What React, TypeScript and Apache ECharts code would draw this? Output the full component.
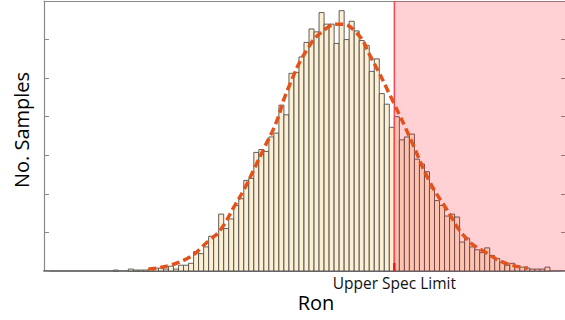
import React, { useEffect, useRef } from "react";
import * as echarts from "echarts";

// Histogram counts per bin (bin i spans [i, i+1])
const BIN_COUNTS = [
  1, 0, 0, 2, 1, 1, 1, 2, 3, 3,
  2, 5, 2, 6, 6, 8, 20, 18, 25, 36,
  37, 59, 44, 54, 68, 75, 94, 96, 123, 126,
  124, 139, 143, 172, 162, 205, 206, 222, 237, 251,
  248, 268, 256, 256, 236, 270, 240, 259, 249, 239,
  234, 207, 220, 184, 173, 149, 160, 136, 139, 142,
  116, 111, 103, 86, 73, 68, 57, 59, 56, 30,
  34, 25, 22, 19, 24, 16, 13, 9, 6, 8,
  5, 4, 3, 2, 2, 2, 4,
];

// Fitted distribution curve
const CURVE_X = [7.0, 14.0, 19.4, 21.4, 24.0, 26.0, 28.0, 30.0, 32.3, 34.9, 38.9, 42.3, 44.9, 48.3, 51.3, 55.9, 59.3, 62.9, 66.3, 70.3, 74.3, 78.2, 82.6];
const CURVE_Y = [2, 11, 33, 43, 66, 84, 105, 127, 152, 190, 232, 251, 256, 248, 222, 174, 136, 94, 65, 34, 19, 8, 3];

const SPEC_LIMIT = 56;
const SPEC_LABEL = "Upper Spec Limit";
const X_MIN = -13.8;
const X_MAX = 90;
const Y_MAX = 280;
const Y_INTERVAL = 40;

const FONT = "'Open Sans', 'Noto Sans', sans-serif";

export default function App() {
  const ref = useRef<HTMLDivElement>(null);
  useEffect(() => {
    if (!ref.current) return;
    const chart = echarts.init(ref.current, null, { renderer: "svg" });
    const option: any = {
      animation: false,
      grid: {
        left: 44,
        right: 0,
        top: 1,
        bottom: 49,
        containLabel: false,
        outerBoundsMode: "none",
      },
      xAxis: [
        {
          type: "value",
          min: X_MIN,
          max: X_MAX,
          position: "bottom",
          axisLine: { show: true, onZero: false, lineStyle: { color: "#4a4a4a", width: 1.5 } },
          axisTick: { show: false },
          splitLine: { show: false },
          axisLabel: {
            show: true,
            customValues: [SPEC_LIMIT],
            formatter: () => SPEC_LABEL,
            color: "#111",
            fontFamily: FONT,
            fontSize: 15.5,
            margin: 4,
          },
        },
        {
          type: "value",
          min: X_MIN,
          max: X_MAX,
          position: "top",
          axisLine: { show: true, onZero: false, lineStyle: { color: "#8a8a8a", width: 1 } },
          axisTick: { show: false },
          splitLine: { show: false },
          axisLabel: { show: false },
        },
      ],
      yAxis: [
        {
          type: "value",
          min: 0,
          max: Y_MAX,
          interval: Y_INTERVAL,
          position: "left",
          axisLine: { show: true, onZero: false, lineStyle: { color: "#8a8a8a", width: 1.2 } },
          axisTick: { show: true, inside: true, length: 5, lineStyle: { color: "#8a8a8a" } },
          axisLabel: { show: false },
          splitLine: { show: false },
        },
        {
          type: "value",
          min: 0,
          max: Y_MAX,
          interval: Y_INTERVAL,
          position: "right",
          axisLine: { show: false, onZero: false },
          axisTick: { show: true, inside: true, length: 4, lineStyle: { color: "#8a8a8a" } },
          axisLabel: { show: false },
          splitLine: { show: false },
        },
      ],
      series: [
        {
          type: "custom",
          z: 1,
          data: BIN_COUNTS.map((c, i) => [i, c]),
          encode: { x: 0, y: 1 },
          renderItem: (params: any, api: any) => {
            const x = api.value(0);
            const y = api.value(1);
            if (!y) return null;
            const p0 = api.coord([x, 0]);
            const p1 = api.coord([x + 1, y]);
            return {
              type: "rect",
              shape: { x: p0[0], y: p1[1], width: p1[0] - p0[0], height: p0[1] - p1[1] },
              style: { fill: "#FCEFD2", stroke: "#4d4d4d", lineWidth: 0.9 },
            };
          },
        },
        {
          type: "custom",
          z: 2,
          data: [[SPEC_LIMIT, Y_MAX]],
          encode: { x: 0, y: 1 },
          renderItem: (params: any, api: any) => {
            const x = api.value(0);
            const top = api.coord([x, Y_MAX]);
            const bot = api.coord([X_MAX, 0]);
            return {
              type: "group",
              children: [
                {
                  type: "rect",
                  shape: { x: top[0], y: top[1], width: bot[0] - top[0], height: bot[1] - top[1] },
                  style: { fill: "rgba(255, 0, 20, 0.18)" },
                },
                {
                  type: "line",
                  shape: { x1: top[0], y1: top[1], x2: top[0], y2: bot[1] },
                  style: { stroke: "#FF4455", lineWidth: 1.5 },
                },
                {
                  type: "line",
                  shape: { x1: top[0], y1: bot[1] - 8, x2: top[0], y2: bot[1] },
                  style: { stroke: "#FF1020", lineWidth: 2.5 },
                },
              ],
            };
          },
        },
        {
          type: "line",
          z: 3,
          smooth: 0.5,
          showSymbol: false,
          data: CURVE_X.map((x, i) => [x, CURVE_Y[i]]),
          lineStyle: { color: "#E4521B", width: 3.5, type: [8, 4] },
        },
      ],
      graphic: [
        {
          type: "text",
          x: 21,
          y: 130,
          rotation: Math.PI / 2,
          style: {
            text: "No. Samples",
            fontFamily: FONT,
            fontSize: 20,
            fill: "#000",
            align: "center",
            verticalAlign: "middle",
          },
        },
        {
          type: "text",
          x: 316,
          y: 302,
          style: {
            text: "Ron",
            fontFamily: FONT,
            fontSize: 20,
            fill: "#000",
            align: "center",
            verticalAlign: "middle",
          },
        },
      ],
    };
    chart.setOption(option);
    return () => chart.dispose();
  }, []);
  return <div ref={ref} style={{ width: 565, height: 320, position: "absolute", left: 0, top: 0 }} />;
}
